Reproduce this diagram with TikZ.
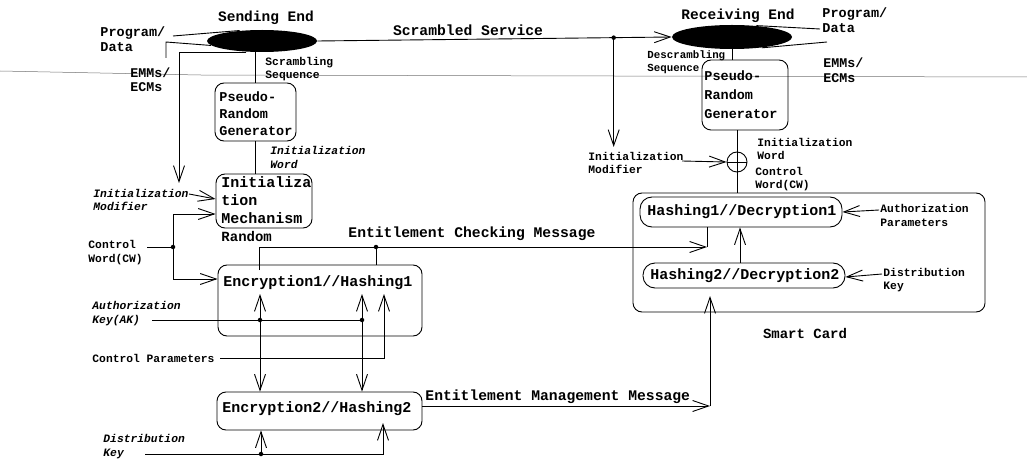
\documentclass[tikz,border=0pt]{standalone}
\usepackage{fontspec}
\setmainfont{Liberation Mono}
\usetikzlibrary{shapes.geometric,arrows.meta,calc}
\begin{document}
\begin{tikzpicture}[x=1pt,y=-1pt,line width=0.9pt,
  box/.style={draw,rounded corners=9pt,inner sep=0pt},
  blob/.style={ellipse,fill=black,inner sep=0pt},
  arr/.style={-{Straight Barb[length=16pt,width=11pt]}},
  lab/.style={font=\bfseries\fontsize{11.3}{13.5}\selectfont,align=left,inner sep=0pt,anchor=west},
  labi/.style={font=\bfseries\itshape\fontsize{11.3}{13.5}\selectfont,align=left,inner sep=0pt,anchor=west},
  midlab/.style={font=\bfseries\fontsize{13.5}{15}\selectfont,align=left,inner sep=0pt,anchor=west},
  title/.style={font=\bfseries\fontsize{14.5}{16}\selectfont,inner sep=0pt},
  msg/.style={font=\bfseries\fontsize{14.7}{16}\selectfont,inner sep=0pt,anchor=west},
  btxt/.style={font=\bfseries\fontsize{15}{18}\selectfont,align=left,inner sep=0pt,anchor=west},
  ptxt/.style={font=\bfseries\fontsize{13.5}{17}\selectfont,align=left,inner sep=0pt,anchor=west},
  dotc/.style={circle,fill=black,inner sep=0pt,minimum size=4.5pt}]
\useasboundingbox (0,0) rectangle (1027,465);

% scan artifact line
\draw[line width=0.5pt,black!55] (0,71) -- (200,75) -- (1027,77);

% ---------- nodes ----------
\node[blob,minimum width=110pt,minimum height=22pt] (send) at (262,41) {};
\node[blob,minimum width=120pt,minimum height=24pt] (recv) at (732,37) {};
\node[box,minimum width=81pt,minimum height=58pt] (prg1) at (255.5,112) {};
\node[box,minimum width=96pt,minimum height=54pt] (init) at (264,201) {};
\node[box,minimum width=204pt,minimum height=71pt] (enc1) at (320,300.5) {};
\node[box,minimum width=205pt,minimum height=38pt] (enc2) at (319.5,411) {};
\node[box,minimum width=86pt,minimum height=70pt] (prg2) at (745,95) {};
\node[circle,draw,minimum size=20pt,inner sep=0pt] (xor) at (737,162) {};
\node[box,minimum width=352pt,minimum height=119pt] (card) at (809,252.5) {};
\node[box,rounded corners=12pt,minimum width=202pt,minimum height=30pt] (h1) at (741,212) {};
\node[box,rounded corners=12pt,minimum width=202pt,minimum height=25pt] (h2) at (744,275.5) {};

% box texts
\node[ptxt] (tprg1) at (219,114) {Pseudo-\\Random\\Generator};
\node[btxt] (tinit) at (221,200) {Initializa\\tion\\Mechanism};
\node[ptxt,font=\bfseries\fontsize{14}{17}\selectfont] (trand) at (221,236) {Random};
\node[btxt] (tenc1) at (223,283) {Encryption1//Hashing1};
\node[btxt] (tenc2) at (222,409) {Encryption2//Hashing2};
\node[ptxt,font=\bfseries\fontsize{13.5}{19}\selectfont] (tprg2) at (704,95) {Pseudo-\\Random\\Generator};
\node[btxt] (th1) at (647,212) {Hashing1//Decryption1};
\node[btxt] (th2) at (650,276) {Hashing2//Decryption2};

% titles and labels
\node[title] (tsend) at (266,18) {Sending End};
\node[title] (trecv) at (738,16) {Receiving End};
\node[midlab] (pdL) at (100,39.5) {Program/\\Data};
\node[midlab,font=\bfseries\fontsize{13.3}{14.5}\selectfont] (emL) at (130,79.5) {EMMs/\\ECMs};
\node[midlab] (pdR) at (822,20) {Program/\\Data};
\node[midlab,font=\bfseries\fontsize{13.3}{14.5}\selectfont] (emR) at (823,70) {EMMs/\\ECMs};
\node[lab] (scr) at (265,69) {Scrambling\\Sequence};
\node[lab,font=\bfseries\fontsize{10.8}{13.5}\selectfont] (dscr) at (647,62) {Descrambling\\Sequence};
\node[msg,anchor=center] (tss) at (468,30) {Scrambled Service};
\node[labi] (iwL) at (270,157.5) {Initialization\\Word};
\node[lab] (iwR) at (757,149) {Initialization\\Word};
\node[lab] (cwR) at (755,179) {Control\\Word(CW)};
\node[lab] (imR) at (588,163) {Initialization\\Modifier};
\node[labi] (imL) at (93,200) {Initialization\\Modifier};
\node[lab] (cwL) at (88,252.5) {Control\\Word(CW)};
\node[labi] (akL) at (92,313.5) {Authorization\\Key(AK)};
\node[lab] (cpL) at (92,358) {Control Parameters};
\node[labi] (dkL) at (103,446.5) {Distribution\\Key};
\node[lab] (apR) at (880,215.5) {Authorization\\Parameters};
\node[lab] (dkR) at (883,280) {Distribution\\Key};
\node[msg,anchor=center,font=\bfseries\fontsize{14}{16}\selectfont] (tsc) at (805,333) {Smart Card};
\node[msg] (tecm) at (348,234) {Entitlement Checking Message};
\node[msg] (temm) at (425,397) {Entitlement Management Message};

% ---------- coordinates ----------
\coordinate (pl) at (173,36);
\coordinate (emA) at (166,58);
\coordinate (emB) at (166,42);
\coordinate (imT) at (179,183);
\coordinate (imS) at (189,194);
\coordinate (cwS) at (147,247);
\coordinate (cwd) at (173,247);
\coordinate (ecS) at (259,270);
\coordinate (ecC) at (707,247);
\coordinate (ecD) at (376,247);
\coordinate (akS) at (152,320);
\coordinate (a1) at (260,320);
\coordinate (a2) at (362,320);
\coordinate (cpS) at (220,358);
\coordinate (cpT) at (384,294);
\coordinate (dkS) at (145,454);
\coordinate (dkT) at (383,423);
\coordinate (d1) at (261,454);
\coordinate (emC) at (710,406);
\coordinate (dS) at ($(send.east)!0.8366!(recv.west)$);
\coordinate (imR0) at (682,161);
\coordinate (apS) at (879,210);
\coordinate (dkRS) at (882,274);
\coordinate (pdRa) at (820,29);
\coordinate (emRa) at (827,42);

% ---------- connectors, sending side ----------
\draw (pl) -- (send.155);
\draw (emA) -- (emB) -- (send.185);
\draw[arr] (send.215) -| (imT);
\draw (send.south -| prg1.north) -- (prg1.north);
\draw (prg1.south) -- (prg1.south |- init.north);
\draw[arr] (imS) -- (init.west |- 0,199);
\draw (cwS) -- (cwd);
\draw[arr] (cwd) |- (init.west |- 0,214);
\draw[arr] (cwd) |- (enc1.west |- 0,279);
\node[dotc] (dcw) at (cwd) {};

% entitlement checking message
\draw[arr] (ecS) |- (ecC);
\draw (ecC) -- (h1.south -| ecC);
\draw (ecD) -- (enc1.north -| ecD);
\node[dotc] (dec) at (ecD) {};

% inside encryption 1
\draw (akS) -- (a2);
\draw[arr] (a1) -- (260,294);
\draw[arr] (a2) -- (362,294);
\draw[arr] (a1) -- (a1 |- enc2.north);
\draw[arr] (a2) -- (a2 |- enc2.north);
\draw[arr] (cpS) -| (cpT);
\node[dotc] (da1) at (a1) {};
\node[dotc] (da2) at (a2) {};

% distribution key
\draw[arr] (dkS) -| (dkT);
\draw[arr] (d1) -- (d1 |- enc2.south);
\node[dotc] (dd1) at (d1) {};

% entitlement management message
\draw[arr] (enc2.east |- emC) -- (emC);
\draw[arr] (emC) -- (710,296);

% ---------- receiving side ----------
\draw[arr] (send.east) -- (recv.west);
\node[dotc] (ddS) at (dS) {};
\draw[arr] (dS) -- (dS |- 0,147);
\draw (recv.25) -- (pdRa);
\draw (recv.-20) -- (emRa);
\draw (recv.south) -- (recv.south |- prg2.north);
\draw (prg2.south -| xor.north) -- (xor.north);
\draw (xor.north) -- (xor.south) (xor.west) -- (xor.east);
\draw (xor.south) -- (xor.south |- card.north);
\draw[arr] (imR0) -- (xor.west);
\draw[arr] (apS) -- (h1.east |- 0,212);
\draw[arr] (dkRS) -- (h2.east |- 0,277);
\draw[arr] (h2.north -| 740,0) -- (h1.south -| 740,0);
\end{tikzpicture}
\end{document}
